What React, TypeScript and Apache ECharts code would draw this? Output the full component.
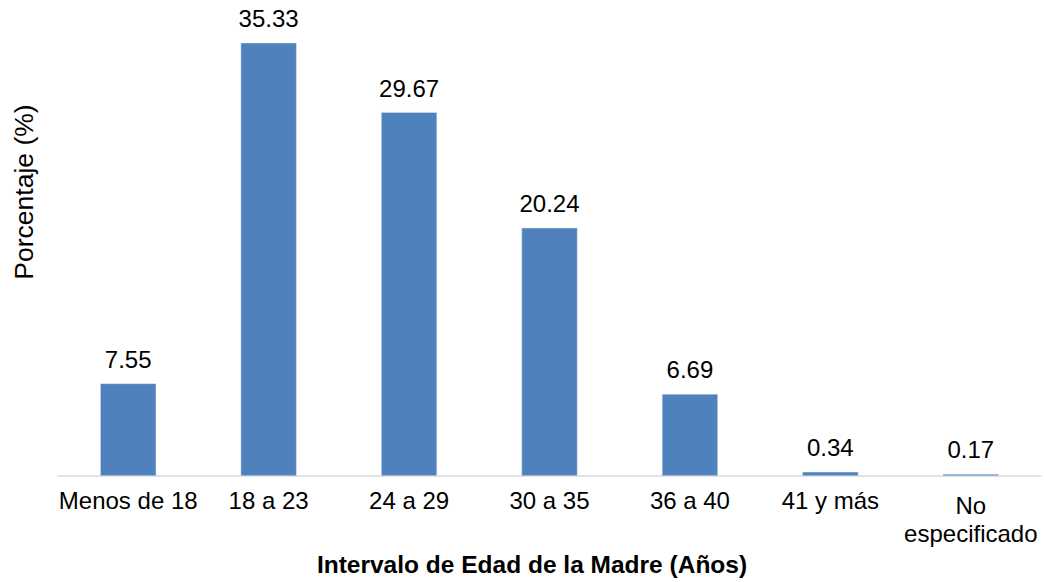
import React, { useEffect, useRef } from "react";
import * as echarts from "echarts";

const categories = ["Menos de 18", "18 a 23", "24 a 29", "30 a 35", "36 a 40", "41 y más", "No\nespecificado"];
const values = [7.55, 35.33, 29.67, 20.24, 6.69, 0.34, 0.17];
const yAxisTitle = "Porcentaje (%)";
const xAxisTitle = "Intervalo de Edad de la Madre (Años)";

export default function App() {
  const ref = useRef<HTMLDivElement>(null);
  useEffect(() => {
    document.body.style.margin = "0";
    const chart = echarts.init(ref.current!, null, { renderer: "svg" });
    const font = "'Liberation Sans', Arial, sans-serif";
    chart.setOption({
      animation: false,
      backgroundColor: "#ffffff",
      grid: { left: 58, right: 3, top: 10, bottom: 106, containLabel: false },
      xAxis: {
        type: "category",
        data: categories.map((c) =>
          c.includes("\n") ? { value: c, textStyle: { padding: [4, 0, 0, 0], lineHeight: 28 } } : c
        ),
        axisLine: { lineStyle: { color: "#d9d9d9", width: 1.5 } },
        axisTick: { show: false },
        axisLabel: { color: "#000", fontSize: 24, fontFamily: font, margin: 11, lineHeight: 27, interval: 0 },
      },
      yAxis: { type: "value", min: 0, max: 38, show: false, splitLine: { show: false } },
      series: [
        {
          type: "bar",
          data: values,
          barWidth: 56,
          itemStyle: { color: "#4F81BD", borderColor: "#dce6f2", borderWidth: 0.5 },
          label: {
            show: true,
            position: "top",
            distance: 12,
            color: "#000",
            fontSize: 24,
            fontFamily: font,
            formatter: (p: any) => p.value.toFixed(2),
          },
        },
      ],
      graphic: [
        {
          type: "text",
          x: 24,
          y: 192,
          rotation: Math.PI / 2,
          style: { text: yAxisTitle, fontSize: 26.5, fontFamily: font, fill: "#000", align: "center", verticalAlign: "middle" },
        },
        {
          type: "text",
          x: 532,
          y: 564,
          style: { text: xAxisTitle, fontSize: 24.5, fontWeight: "bold", fontFamily: font, fill: "#000", align: "center", verticalAlign: "middle" },
        },
      ],
    });
    return () => chart.dispose();
  }, []);
  return <div ref={ref} style={{ position: "fixed", left: 0, top: 0, width: 1044, height: 582 }} />;
}
